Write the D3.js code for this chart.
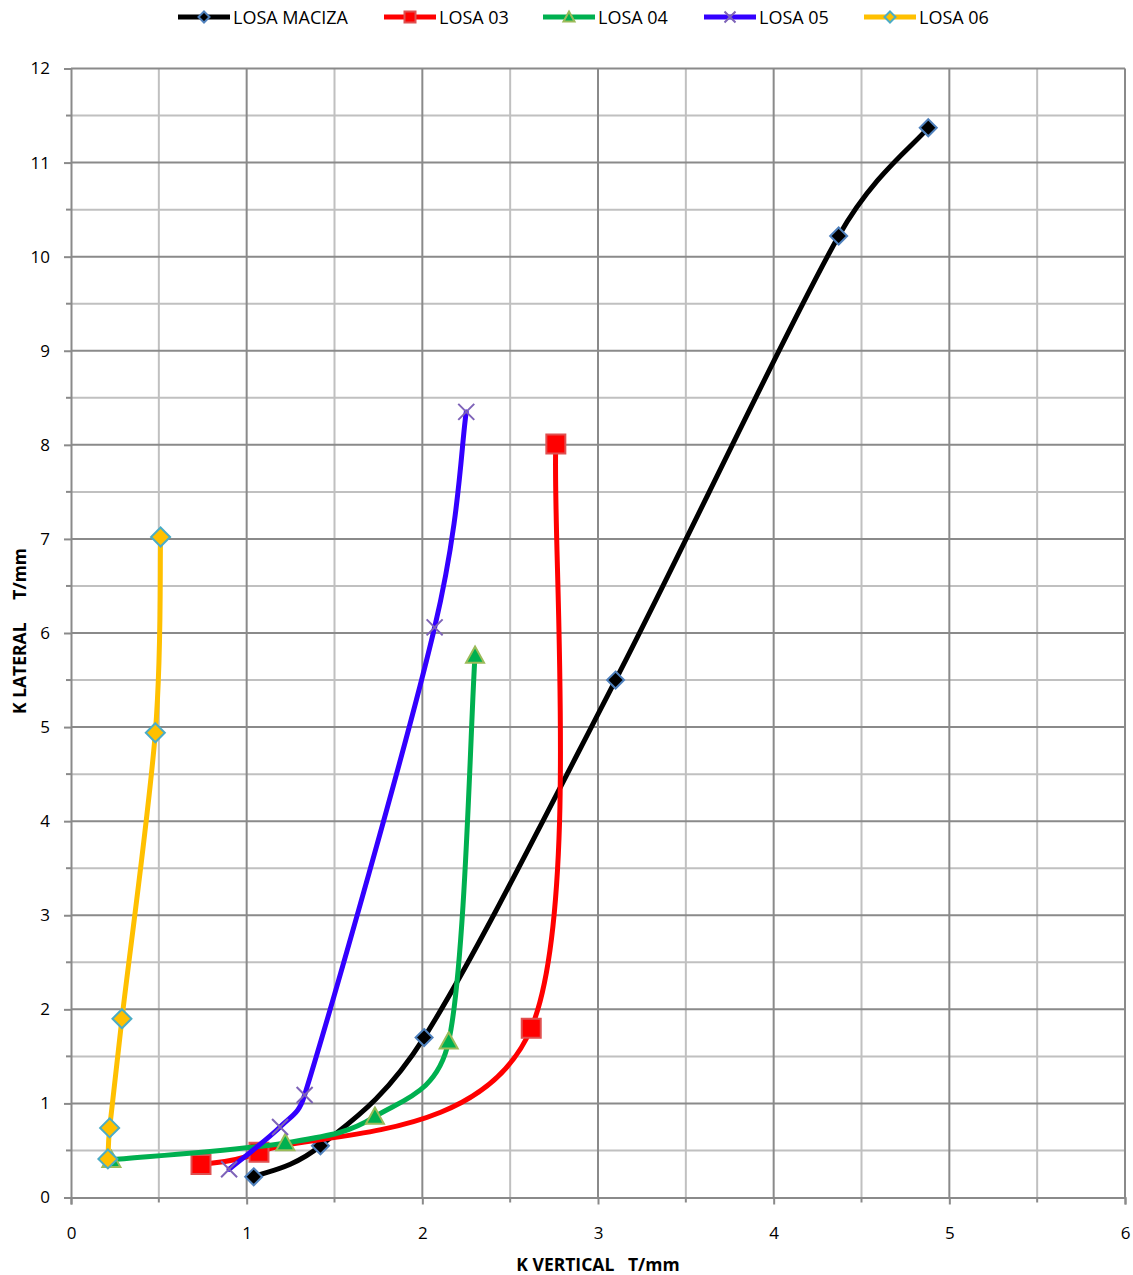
<!DOCTYPE html>
<html>
<head>
<meta charset="utf-8">
<script src="https://cdn.jsdelivr.net/npm/d3@7"></script>
<style>
  html, body { margin: 0; padding: 0; background: #fff; }
  svg { display: block; font-family: "Open Sans", "Liberation Sans", sans-serif; }
</style>
</head>
<body>
<svg id="chart" width="1133" height="1275"></svg>
<script>
// Stiffness curves: K vertical vs K lateral (T/mm) per slab type
const seriesNames = ["LOSA MACIZA", "LOSA 03", "LOSA 04", "LOSA 05", "LOSA 06"];

const losaMacizaX = [1.04, 1.42, 2.01, 3.10, 4.37, 4.88];
const losaMacizaY = [0.22, 0.55, 1.70, 5.50, 10.22, 11.37];

const losa03X = [0.74, 1.07, 2.62, 2.76];
const losa03Y = [0.35, 0.48, 1.80, 8.01];

const losa04X = [0.23, 1.22, 1.73, 2.15, 2.30];
const losa04Y = [0.40, 0.58, 0.86, 1.66, 5.76];

const losa05X = [0.90, 1.19, 1.33, 2.07, 2.25];
const losa05Y = [0.30, 0.75, 1.09, 6.06, 8.35];

const losa06X = [0.21, 0.22, 0.29, 0.48, 0.51];
const losa06Y = [0.41, 0.74, 1.90, 4.94, 7.02];

const xTicks = [0, 1, 2, 3, 4, 5, 6];
const yTicks = [0, 1, 2, 3, 4, 5, 6, 7, 8, 9, 10, 11, 12];
const xTitle = "K VERTICAL   T/mm";
const yTitle = "K LATERAL     T/mm";

const styles = [
  { line: "#000000", marker: "diamond", fill: "#000000", stroke: "#4f81bd", size: 17 },
  { line: "#ff0000", marker: "square",  fill: "#ff0000", stroke: "#e05050", size: 19 },
  { line: "#00b050", marker: "triangle",fill: "#00b050", stroke: "#9bbb59", size: 18 },
  { line: "#3300ff", marker: "x",       fill: "none",    stroke: "#7e63b8", size: 16 },
  { line: "#ffc000", marker: "diamond", fill: "#ffc000", stroke: "#4bacc6", size: 19 }
];

const data = [
  losaMacizaX.map((x, i) => ({ x, y: losaMacizaY[i] })),
  losa03X.map((x, i) => ({ x, y: losa03Y[i] })),
  losa04X.map((x, i) => ({ x, y: losa04Y[i] })),
  losa05X.map((x, i) => ({ x, y: losa05Y[i] })),
  losa06X.map((x, i) => ({ x, y: losa06Y[i] }))
];

const svg = d3.select("#chart");
const plotLeft = 71, plotRight = 1125, plotTop = 68.5, plotBottom = 1197.5;

const x = d3.scaleLinear().domain([0, 6]).range([plotLeft, plotRight]);
const y = d3.scaleLinear().domain([0, 12]).range([plotBottom, plotTop]);

// Gridlines: minor every 0.5, major at integers
const minorX = d3.range(0.5, 6, 1), minorY = d3.range(0.5, 12, 1);
const grid = svg.append("g");
grid.selectAll(".mx").data(minorX).join("line")
  .attr("x1", d => x(d)).attr("x2", d => x(d)).attr("y1", plotTop).attr("y2", plotBottom)
  .attr("stroke", "#c0c0c0").attr("stroke-width", 2);
grid.selectAll(".my").data(minorY).join("line")
  .attr("y1", d => y(d)).attr("y2", d => y(d)).attr("x1", plotLeft).attr("x2", plotRight)
  .attr("stroke", "#c0c0c0").attr("stroke-width", 2);
grid.selectAll(".gx").data(xTicks.slice(1)).join("line")
  .attr("x1", d => x(d)).attr("x2", d => x(d)).attr("y1", plotTop).attr("y2", plotBottom)
  .attr("stroke", "#8a8a8a").attr("stroke-width", 2);
grid.selectAll(".gy").data(yTicks.slice(1)).join("line")
  .attr("y1", d => y(d)).attr("y2", d => y(d)).attr("x1", plotLeft).attr("x2", plotRight)
  .attr("stroke", "#8a8a8a").attr("stroke-width", 2);

// Axes
const xAxis = svg.append("g").attr("transform", `translate(0,${plotBottom})`)
  .call(d3.axisBottom(x).tickValues(xTicks).tickSize(7).tickPadding(22).tickFormat(d3.format("d")));
const yAxis = svg.append("g").attr("transform", `translate(${plotLeft},0)`)
  .call(d3.axisLeft(y).tickValues(yTicks).tickSize(7).tickPadding(14).tickFormat(d3.format("d")));
// minor tick marks
svg.append("g").selectAll("line").data(minorX).join("line")
  .attr("x1", d => x(d)).attr("x2", d => x(d)).attr("y1", plotBottom).attr("y2", plotBottom + 5)
  .attr("stroke", "#8a8a8a").attr("stroke-width", 2);
svg.append("g").selectAll("line").data(minorY).join("line")
  .attr("y1", d => y(d)).attr("y2", d => y(d)).attr("x1", plotLeft - 5).attr("x2", plotLeft)
  .attr("stroke", "#8a8a8a").attr("stroke-width", 2);
[xAxis, yAxis].forEach(g => {
  g.select(".domain").attr("stroke", "#8a8a8a").attr("stroke-width", 2);
  g.selectAll(".tick line").attr("stroke", "#8a8a8a").attr("stroke-width", 2);
  g.selectAll(".tick text").attr("font-size", 17).attr("fill", "#000")
    .attr("font-family", "'Open Sans', sans-serif");
});

// Axis titles
svg.append("text").attr("x", 598).attr("y", 1271).attr("text-anchor", "middle")
  .attr("font-size", 17.5).attr("font-weight", "bold").style("white-space", "pre").text(xTitle);
svg.append("text").attr("transform", `translate(26,${631}) rotate(-90)`)
  .attr("text-anchor", "middle").attr("font-size", 17.5).attr("font-weight", "bold")
  .style("white-space", "pre").text(yTitle);

function markerPath(type, s) {
  const h = s / 2;
  if (type === "diamond") return `M0,${-h}L${h},0L0,${h}L${-h},0Z`;
  if (type === "square") return `M${-h},${-h}H${h}V${h}H${-h}Z`;
  if (type === "triangle") return `M0,${-h}L${h},${h * 0.8}H${-h}Z`;
  return `M${-h},${-h}L${h},${h}M${h},${-h}L${-h},${h}`;
}

function drawMarker(g, st, cx, cy, s) {
  g.append("path").attr("d", markerPath(st.marker, s))
    .attr("transform", `translate(${cx},${cy})`)
    .attr("fill", st.fill).attr("stroke", st.stroke).attr("stroke-width", 2);
}

// Smoothed curve: Catmull-Rom style tangents (1/6 of the neighbour chord),
// with each handle limited to half of its own segment so short segments
// next to long ones do not loop.
function smoothCurve(context) {
  let pts;
  return {
    areaStart() {}, areaEnd() {},
    lineStart() { pts = []; },
    point(px, py) { pts.push([px, py]); },
    lineEnd() {
      const n = pts.length;
      if (!n) return;
      context.moveTo(pts[0][0], pts[0][1]);
      if (n === 1) return;
      const dist = (a, b) => Math.hypot(b[0] - a[0], b[1] - a[1]);
      const tangent = i => {
        const a = pts[Math.max(i - 1, 0)], b = pts[Math.min(i + 1, n - 1)];
        return [(b[0] - a[0]) / 6, (b[1] - a[1]) / 6];
      };
      const handle = (t, segLen) => {
        const len = Math.hypot(t[0], t[1]), lim = segLen / 2;
        const k = len > lim && len > 0 ? lim / len : 1;
        return [t[0] * k, t[1] * k];
      };
      for (let i = 0; i < n - 1; i++) {
        const p0 = pts[i], p1 = pts[i + 1], seg = dist(p0, p1);
        const h0 = handle(tangent(i), seg), h1 = handle(tangent(i + 1), seg);
        context.bezierCurveTo(p0[0] + h0[0], p0[1] + h0[1],
                              p1[0] - h1[0], p1[1] - h1[1], p1[0], p1[1]);
      }
    }
  };
}

const line = d3.line().x(d => x(d.x)).y(d => y(d.y)).curve(smoothCurve);

const plot = svg.append("g");
data.forEach((pts, i) => {
  const st = styles[i];
  const g = plot.append("g");
  g.append("path").datum(pts).attr("d", line)
    .attr("fill", "none").attr("stroke", st.line).attr("stroke-width", 5)
    .attr("stroke-linejoin", "round").attr("stroke-linecap", "round");
  pts.forEach(p => drawMarker(g, st, x(p.x), y(p.y), st.size));
});

// Legend
const legendX = [178, 384, 543, 704, 864];
const legend = svg.append("g");
seriesNames.forEach((name, i) => {
  const st = styles[i];
  const lx = legendX[i], ly = 17;
  legend.append("line").attr("x1", lx).attr("x2", lx + 52).attr("y1", ly).attr("y2", ly)
    .attr("stroke", st.line).attr("stroke-width", 5);
  drawMarker(legend, st, lx + 26, ly, 11);
  legend.append("text").attr("x", lx + 55).attr("y", ly + 6.5)
    .attr("font-size", 18).attr("fill", "#000").text(name);
});
</script>
</body>
</html>
